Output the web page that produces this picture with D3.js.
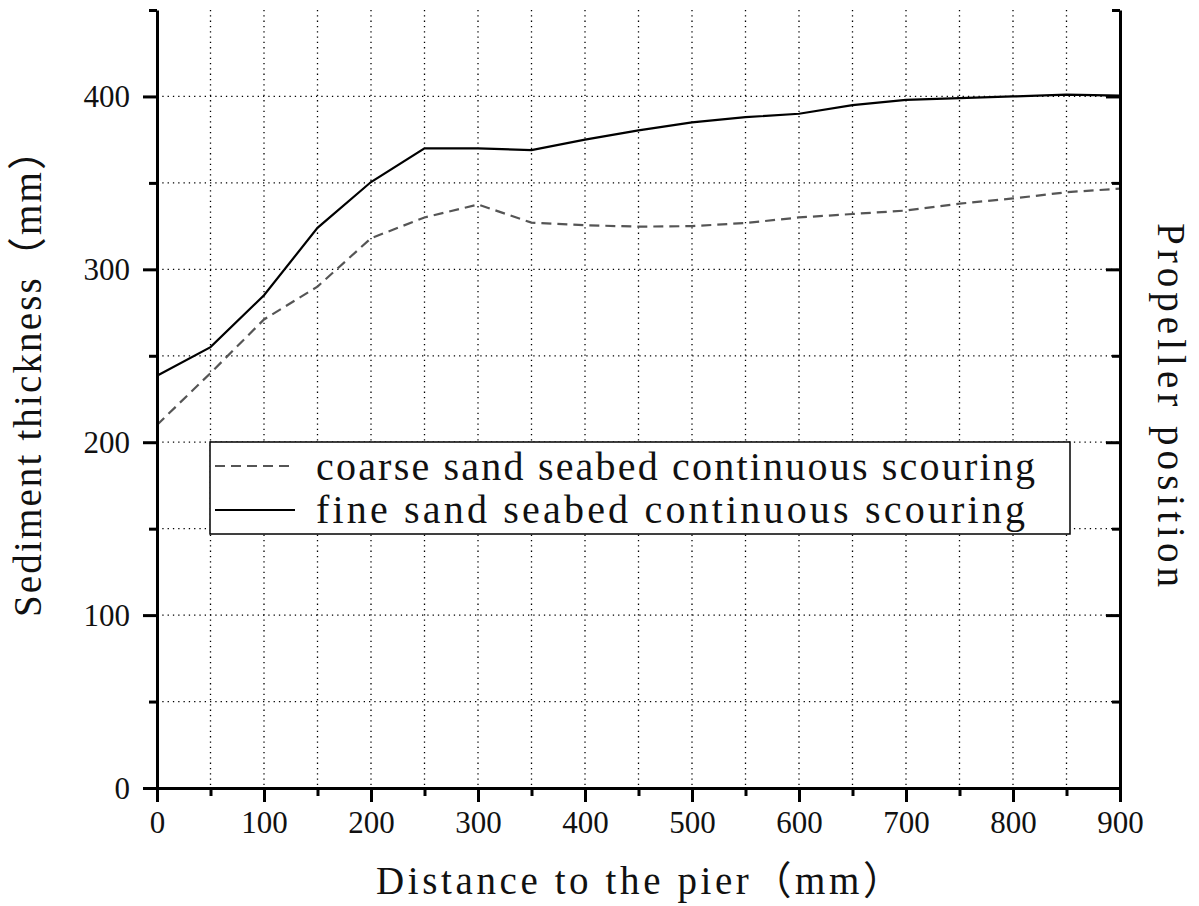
<!DOCTYPE html>
<html>
<head>
<meta charset="utf-8">
<script src="https://cdn.jsdelivr.net/npm/d3@7"></script>
<style>
  html, body { margin: 0; padding: 0; background: #fff; }
  svg { display: block; }
  text { font-family: "Liberation Serif", "Times New Roman", "DejaVu Serif", "Noto Sans CJK SC", serif; fill: #111; }
</style>
</head>
<body>
<svg id="chart" width="1199" height="906"></svg>
<script>
// ---- data ----
const distances = [0, 50, 100, 150, 200, 250, 300, 350, 400, 450, 500, 550, 600, 650, 700, 750, 800, 850, 900];
const coarseSand = [210, 240, 271, 290, 318, 330, 337.5, 327, 325.5, 324.7, 325, 326.8, 330, 332, 334, 338, 341, 344.6, 346.7];
const fineSand   = [238.5, 255, 285, 324, 350.5, 370, 370, 369, 375, 380.4, 385, 388, 390, 395, 398, 399, 400, 401, 400.5];
const seriesNames = ["coarse sand seabed continuous scouring", "fine sand seabed continuous scouring"];
const xMajorTicks = [0, 100, 200, 300, 400, 500, 600, 700, 800, 900];
const xMinorTicks = [50, 150, 250, 350, 450, 550, 650, 750, 850];
const yMajorTicks = [0, 100, 200, 300, 400];
const yMinorTicks = [50, 150, 250, 350, 450];
const xGridTicks = [50, 100, 150, 200, 250, 300, 350, 400, 450, 500, 550, 600, 650, 700, 750, 800, 850];
const yGridTicks = [50, 100, 150, 200, 250, 300, 350, 400];
const xTitle = "Distance to the pier（mm）";
const yTitle = "Sediment thickness（mm）";
const y2Title = "Propeller position";

// ---- layout ----
const FONT = "'Liberation Serif', 'Times New Roman', 'DejaVu Serif', 'Noto Sans CJK SC', serif";
const svg = d3.select("#chart");
const L = 157, R = 1120, T = 10, B = 788;
const x = d3.scaleLinear().domain([0, 900]).range([L, R]);
const y = d3.scaleLinear().domain([0, 450]).range([B, T]);

// grid
const grid = svg.append("g").attr("stroke", "#000").attr("stroke-width", 1.3).attr("stroke-dasharray", "1.3,4");
grid.selectAll("line.v").data(xGridTicks).join("line")
  .attr("x1", d => x(d)).attr("x2", d => x(d)).attr("y1", y(450)).attr("y2", y(0));
grid.selectAll("line.h").data(yGridTicks).join("line")
  .attr("y1", d => y(d)).attr("y2", d => y(d)).attr("x1", x(0)).attr("x2", x(900));

// lines
const lineGen = d3.line().x((d, i) => x(distances[i])).y(d => y(d));
svg.append("path").datum(coarseSand).attr("d", lineGen)
  .attr("fill", "none").attr("stroke", "#555").attr("stroke-width", 2.2).attr("stroke-dasharray", "10,6");
svg.append("path").datum(fineSand).attr("d", lineGen)
  .attr("fill", "none").attr("stroke", "#000").attr("stroke-width", 2.2);

// axes
function styleAxis(g) {
  g.attr("font-family", FONT);
  g.selectAll("path.domain").attr("stroke", "#000").attr("stroke-width", 3);
  g.selectAll(".tick line").attr("stroke", "#000").attr("stroke-width", 3);
}
// bottom
const bx = svg.append("g").attr("transform", `translate(0,${B})`)
  .call(d3.axisBottom(x).tickValues(xMajorTicks).tickSize(14).tickSizeOuter(0).tickFormat(d3.format("d")));
bx.selectAll(".tick text").attr("font-size", 31).attr("y", 30).attr("dy", 15).attr("fill", "#111")
  .style("font-family", FONT);
styleAxis(bx);
const bxm = svg.append("g").attr("transform", `translate(0,${B})`)
  .call(d3.axisBottom(x).tickValues(xMinorTicks).tickSize(8).tickSizeOuter(0).tickFormat(""));
bxm.select("path.domain").remove();
styleAxis(bxm);
// left
const ly = svg.append("g").attr("transform", `translate(${L},0)`)
  .call(d3.axisLeft(y).tickValues(yMajorTicks).tickSize(14).tickSizeOuter(0).tickFormat(d3.format("d")));
ly.selectAll(".tick text").attr("font-size", 31).attr("x", -27).attr("dy", "0.33em").attr("fill", "#111")
  .style("font-family", FONT);
styleAxis(ly);
const lym = svg.append("g").attr("transform", `translate(${L},0)`)
  .call(d3.axisLeft(y).tickValues(yMinorTicks).tickSize(8).tickSizeOuter(0).tickFormat(""));
lym.select("path.domain").remove();
styleAxis(lym);
// right (ticks inward)
const ry = svg.append("g").attr("transform", `translate(${R},0)`)
  .call(d3.axisRight(y).tickValues(yMajorTicks).tickSize(-14).tickSizeOuter(0).tickFormat(""));
styleAxis(ry);
const rym = svg.append("g").attr("transform", `translate(${R},0)`)
  .call(d3.axisRight(y).tickValues(yMinorTicks).tickSize(-8).tickSizeOuter(0).tickFormat(""));
rym.select("path.domain").remove();
styleAxis(rym);

// axis titles
svg.append("text").attr("x", 376).attr("y", 894).attr("font-size", 39).style("font-family", FONT)
  .attr("textLength", 526).attr("lengthAdjust", "spacing").text(xTitle);
svg.append("text").attr("transform", "translate(41,374) rotate(-90)").attr("text-anchor", "middle")
  .style("font-family", FONT)
  .attr("font-size", 39).attr("textLength", 486).attr("lengthAdjust", "spacing").text(yTitle);
svg.append("text").attr("transform", "translate(1158,405) rotate(90)").attr("text-anchor", "middle")
  .style("font-family", FONT)
  .attr("font-size", 39).attr("textLength", 364).attr("lengthAdjust", "spacing").text(y2Title);

// legend
const lg = svg.append("g");
lg.append("rect").attr("x", 210).attr("y", 442).attr("width", 860).attr("height", 92)
  .attr("fill", "#fff").attr("stroke", "#000").attr("stroke-width", 1.5);
const legendRows = [
  { name: seriesNames[0], color: "#555", dash: "10,6", cy: 466, base: 480, len: 719 },
  { name: seriesNames[1], color: "#000", dash: null, cy: 510, base: 523, len: 709 }
];
legendRows.forEach(r => {
  lg.append("line").attr("x1", 215).attr("x2", 295).attr("y1", r.cy).attr("y2", r.cy)
    .attr("stroke", r.color).attr("stroke-width", 2.2).attr("stroke-dasharray", r.dash);
  lg.append("text").attr("x", 316).attr("y", r.base).attr("font-size", 40).style("font-family", FONT)
    .attr("textLength", r.len).attr("lengthAdjust", "spacing").text(r.name);
});
</script>
</body>
</html>
